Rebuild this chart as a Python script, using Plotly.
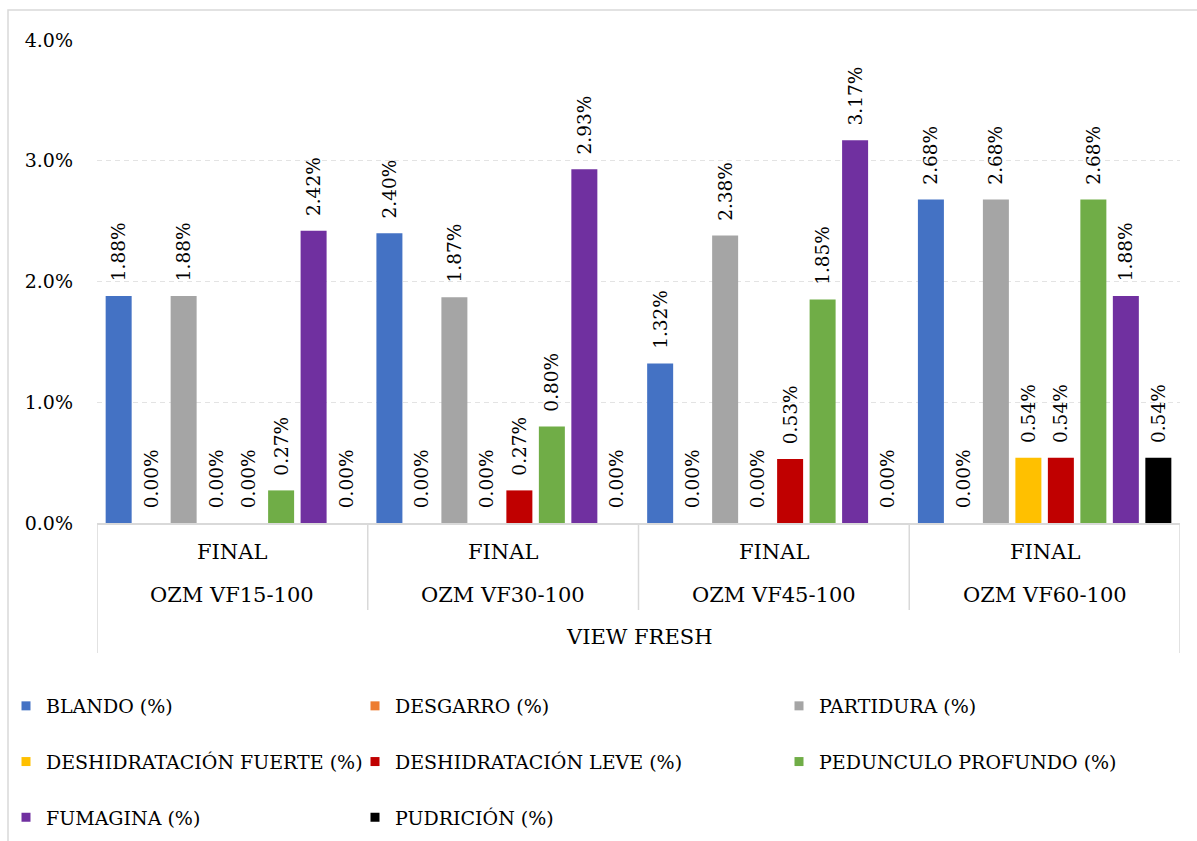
import plotly.graph_objects as go

# Defect percentages per sample group
groups = ["OZM VF15-100", "OZM VF30-100", "OZM VF45-100", "OZM VF60-100"]
stage = "FINAL"
variety = "VIEW FRESH"

series_names = [
    "BLANDO (%)", "DESGARRO (%)", "PARTIDURA (%)",
    "DESHIDRATACIÓN FUERTE (%)", "DESHIDRATACIÓN LEVE (%)",
    "PEDUNCULO PROFUNDO (%)", "FUMAGINA (%)", "PUDRICIÓN (%)",
]
blando = [1.88, 2.40, 1.32, 2.68]
desgarro = [0.00, 0.00, 0.00, 0.00]
partidura = [1.88, 1.87, 2.38, 2.68]
desh_fuerte = [0.00, 0.00, 0.00, 0.54]
desh_leve = [0.00, 0.27, 0.53, 0.54]
pedunculo = [0.27, 0.80, 1.85, 2.68]
fumagina = [2.42, 2.93, 3.17, 1.88]
pudricion = [0.00, 0.00, 0.00, 0.54]
series_values = [blando, desgarro, partidura, desh_fuerte, desh_leve,
                 pedunculo, fumagina, pudricion]
colors = ["#4472C4", "#ED7D31", "#A5A5A5", "#FFC000", "#C00000",
          "#70AD47", "#7030A0", "#000000"]
# legend column for each series
legend_cols = ["legend", "legend2", "legend3",
               "legend", "legend2", "legend3",
               "legend", "legend2"]

y_ticks = [0, 1, 2, 3, 4]
y_tick_text = [f"{v:.1f}%" for v in y_ticks]

FONT = "DejaVu Serif"
FS_CAT = 21
FS_LEG = 19
FS_TICK = 19
FS_LABEL = 18.5
W, H = 1197, 841
L, R, T, B = 97, 17, 40, 318
PLOT_H = H - T - B
PLOT_W = W - L - R


def py(px):
    """pixel row -> paper y"""
    return (H - B - px) / PLOT_H


def pxx(px):
    """pixel column -> paper x"""
    return (px - L) / PLOT_W


fig = go.Figure()
xs = list(range(len(groups)))
for name, vals, col in zip(series_names, series_values, colors):
    fig.add_trace(go.Bar(
        x=xs, y=vals, name=name, marker=dict(color=col, line=dict(width=0)),
        texttemplate="\u00a0\u00a0%{y:.2f}%", textposition="outside",
        textangle=-90, constraintext="none", cliponaxis=False,
        textfont=dict(family=FONT, size=FS_LABEL, color="#000000"),
        showlegend=False, hoverinfo="skip",
    ))

# legend entries (small square markers)
for name, col, lg in zip(series_names, colors, legend_cols):
    fig.add_trace(go.Scatter(
        x=[None], y=[None], mode="markers", name=name, legend=lg,
        legendgroup=name,
        marker=dict(symbol="square", size=9, color=col),
    ))

shapes = []
line_col = "#D9D9D9"
# outer chart border
shapes.append(dict(type="rect", xref="paper", yref="paper",
                   x0=pxx(8), x1=pxx(1210), y0=py(850), y1=py(10),
                   line=dict(color=line_col, width=1.5), layer="below"))
# category separators
for i in range(len(groups) + 1):
    xb = i - 0.5
    bottom = 653 if i in (0, len(groups)) else 610
    shapes.append(dict(type="line", xref="x", yref="paper",
                       x0=xb, x1=xb, y0=py(523), y1=py(bottom),
                       line=dict(color=line_col, width=1.5)))

cat_font = dict(family=FONT, size=FS_CAT, color="#000")
annotations = []
for i, g in enumerate(groups):
    annotations.append(dict(x=i, y=py(552), xref="x", yref="paper",
                            xanchor="center", yanchor="middle",
                            text=stage, showarrow=False, font=cat_font))
    annotations.append(dict(x=i, y=py(595), xref="x", yref="paper",
                            xanchor="center", yanchor="middle",
                            text=g, showarrow=False, font=cat_font))
annotations.append(dict(x=(len(groups) - 1) / 2, y=py(637), xref="x",
                        yref="paper", xanchor="center", yanchor="middle",
                        text=variety, showarrow=False, font=cat_font))

legend_style = dict(orientation="v", xref="container", yref="container",
                    yanchor="top", xanchor="left", tracegroupgap=28,
                    font=dict(family=FONT, size=FS_LEG, color="#000"),
                    bgcolor="rgba(0,0,0,0)", itemwidth=30)
leg_top = 1 - 687 / H

fig.update_layout(
    width=W, height=H,
    margin=dict(l=L, r=R, t=T, b=B, autoexpand=False),
    paper_bgcolor="white", plot_bgcolor="white",
    barmode="group", bargap=0.04, bargroupgap=0.2,
    font=dict(family=FONT, size=FS_LEG, color="#000"),
    xaxis=dict(range=[-0.5, len(groups) - 0.5], showticklabels=False,
               showgrid=False, zeroline=False, showline=True,
               linecolor=line_col, linewidth=1.5, ticks=""),
    yaxis=dict(range=[0, 4], tickmode="array", tickvals=y_ticks,
               ticktext=y_tick_text, showgrid=True, gridcolor="#E3E3E3",
               griddash="5px,4px", gridwidth=1, zeroline=False,
               showline=False, ticks="", ticklabelstandoff=23,
               tickfont=dict(family=FONT, size=FS_TICK, color="#000")),
    legend=dict(legend_style, x=6 / W, y=leg_top),
    legend2=dict(legend_style, x=355 / W, y=leg_top),
    legend3=dict(legend_style, x=779 / W, y=leg_top),
    shapes=shapes, annotations=annotations,
)

fig.write_html("out.html")
